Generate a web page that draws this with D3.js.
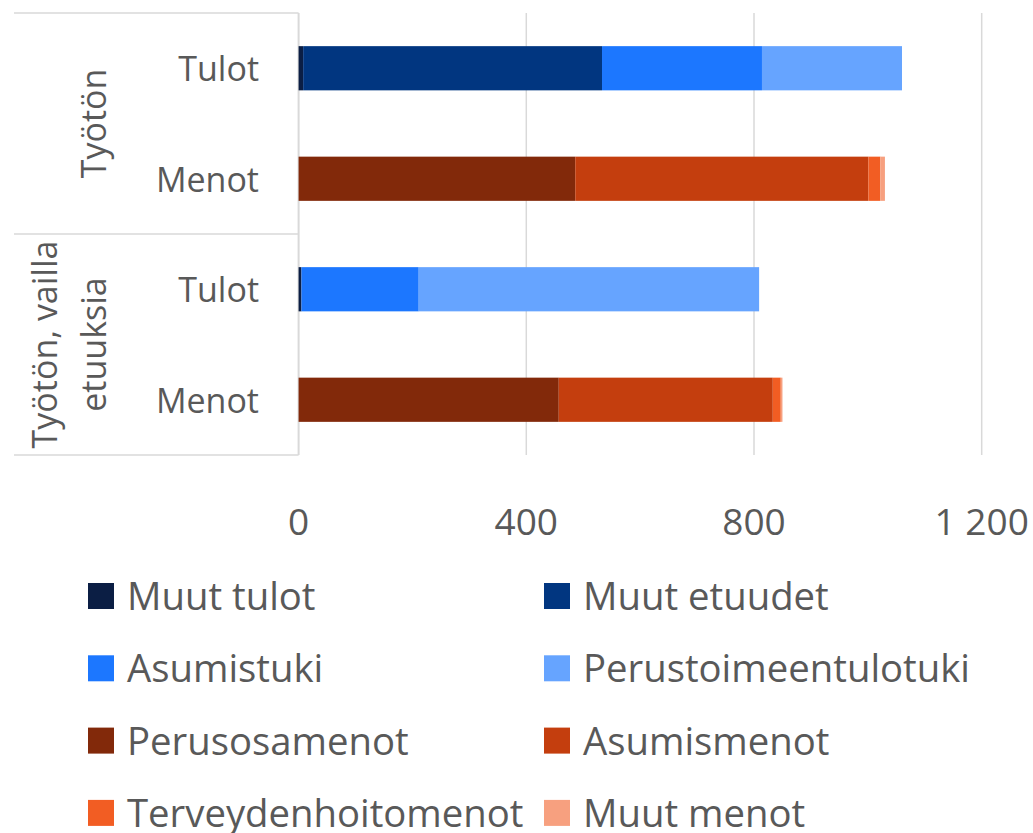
<!DOCTYPE html>
<html>
<head>
<meta charset="utf-8">
<script src="https://cdn.jsdelivr.net/npm/d3@7"></script>
<style>
  html, body { margin: 0; padding: 0; background: #fff; }
  svg text { font-family: 'Open Sans', sans-serif; fill: #595959; }
</style>
</head>
<body>
<div id="chart"></div>
<script>
// Rows from top to bottom: [group, row]
const groups = ['Työtön', 'Työtön, vailla etuuksia'];
const rows = ['Tulot', 'Menot', 'Tulot', 'Menot'];
const rowGroup = [0, 0, 1, 1];

const seriesNames = [
  'Muut tulot', 'Muut etuudet', 'Asumistuki', 'Perustoimeentulotuki',
  'Perusosamenot', 'Asumismenot', 'Terveydenhoitomenot', 'Muut menot'
];
const muutTulot      = [8, 0, 5, 0];
const muutEtuudet    = [525, 0, 0, 0];
const asumistuki     = [281, 0, 206, 0];
const perustoimeentulotuki = [246, 0, 598, 0];
const perusosamenot  = [0, 486, 0, 457];
const asumismenot    = [0, 515, 0, 376];
const terveydenhoitomenot = [0, 21, 0, 14];
const muutMenot      = [0, 8, 0, 3];
const seriesValues = [muutTulot, muutEtuudet, asumistuki, perustoimeentulotuki,
  perusosamenot, asumismenot, terveydenhoitomenot, muutMenot];
const colors = ['#0b1e44', '#013680', '#1c77ff', '#66a4ff',
  '#82290a', '#c43e0e', '#f25d23', '#f7a07f'];
const xTicks = [0, 400, 800, 1200];

const width = 1033, height = 833;
const svg = d3.select('#chart').append('svg')
  .attr('width', width).attr('height', height);

const x = d3.scaleLinear().domain([0, 1200]).range([298.6, 981.7]);
const y = d3.scaleBand().domain(d3.range(rows.length)).range([13, 455])
  .paddingInner(0.6).paddingOuter(0.3);

// Table lines for the group labels
const grid = '#d9d9d9';
const table = svg.append('g');
[13, 234, 455].forEach(yy => {
  table.append('line').attr('x1', 14).attr('x2', 298.6).attr('y1', yy).attr('y2', yy)
    .attr('stroke', grid).attr('stroke-width', 1.5);
});

// Gridlines
svg.append('g').selectAll('line').data(xTicks).join('line')
  .attr('x1', d => x(d)).attr('x2', d => x(d))
  .attr('y1', 13).attr('y2', 455)
  .attr('stroke', grid).attr('stroke-width', d => d === 0 ? 2 : 1.5);

// Tick labels
const fmt = d => d3.format(',')(d).replace(/,/g, ' ');
svg.append('g').selectAll('text').data(xTicks).join('text')
  .attr('x', d => x(d)).attr('y', 535)
  .attr('text-anchor', 'middle').attr('font-size', '37px')
  .text(fmt);

// Stacked bars
const stackData = rows.map((r, i) => {
  const o = { i };
  seriesNames.forEach((s, k) => { o[s] = seriesValues[k][i]; });
  return o;
});
const stacked = d3.stack().keys(seriesNames)(stackData);
svg.append('g').selectAll('g').data(stacked).join('g')
  .attr('fill', (d, k) => colors[k])
  .selectAll('rect').data(d => d.filter(p => p[1] - p[0] > 0)).join('rect')
  .attr('x', p => x(p[0]))
  .attr('width', p => x(p[1]) - x(p[0]))
  .attr('y', p => y(p.data.i))
  .attr('height', y.bandwidth());

// Row labels
svg.append('g').selectAll('text').data(rows).join('text')
  .attr('x', 259).attr('y', (d, i) => y(i) + y.bandwidth() / 2 + 1)
  .attr('dy', '0.36em').attr('text-anchor', 'end').attr('font-size', '34px')
  .text(d => d);

// Group labels (rotated)
const groupLines = [['Työtön'], ['Työtön, vailla', 'etuuksia']];
groupLines.forEach((lines, g) => {
  const idx = rowGroup.map((v, i) => v === g ? i : -1).filter(i => i >= 0);
  const cy = (y(idx[0]) - y.step() * 0.3 + y(idx[idx.length - 1]) + y.bandwidth() + y.step() * 0.3) / 2;
  const t = svg.append('text')
    .attr('transform', `translate(106,${cy}) rotate(-90)`)
    .attr('text-anchor', 'middle').attr('font-size', '34px');
  lines.forEach((ln, j) => {
    t.append('tspan').attr('x', 0).attr('y', (j - (lines.length - 1)) * 49).text(ln);
  });
});

// Legend
const legend = svg.append('g');
seriesNames.forEach((s, k) => {
  const col = k % 2, row = Math.floor(k / 2);
  const lx = col === 0 ? 88 : 544;
  const ly = 596 + row * 72.3;
  legend.append('rect').attr('x', lx).attr('y', ly - 13)
    .attr('width', 26).attr('height', 26).attr('fill', colors[k]);
  legend.append('text').attr('x', lx + 39).attr('y', ly + 14)
    .attr('font-size', '38.3px').text(s);
});
</script>
</body>
</html>
